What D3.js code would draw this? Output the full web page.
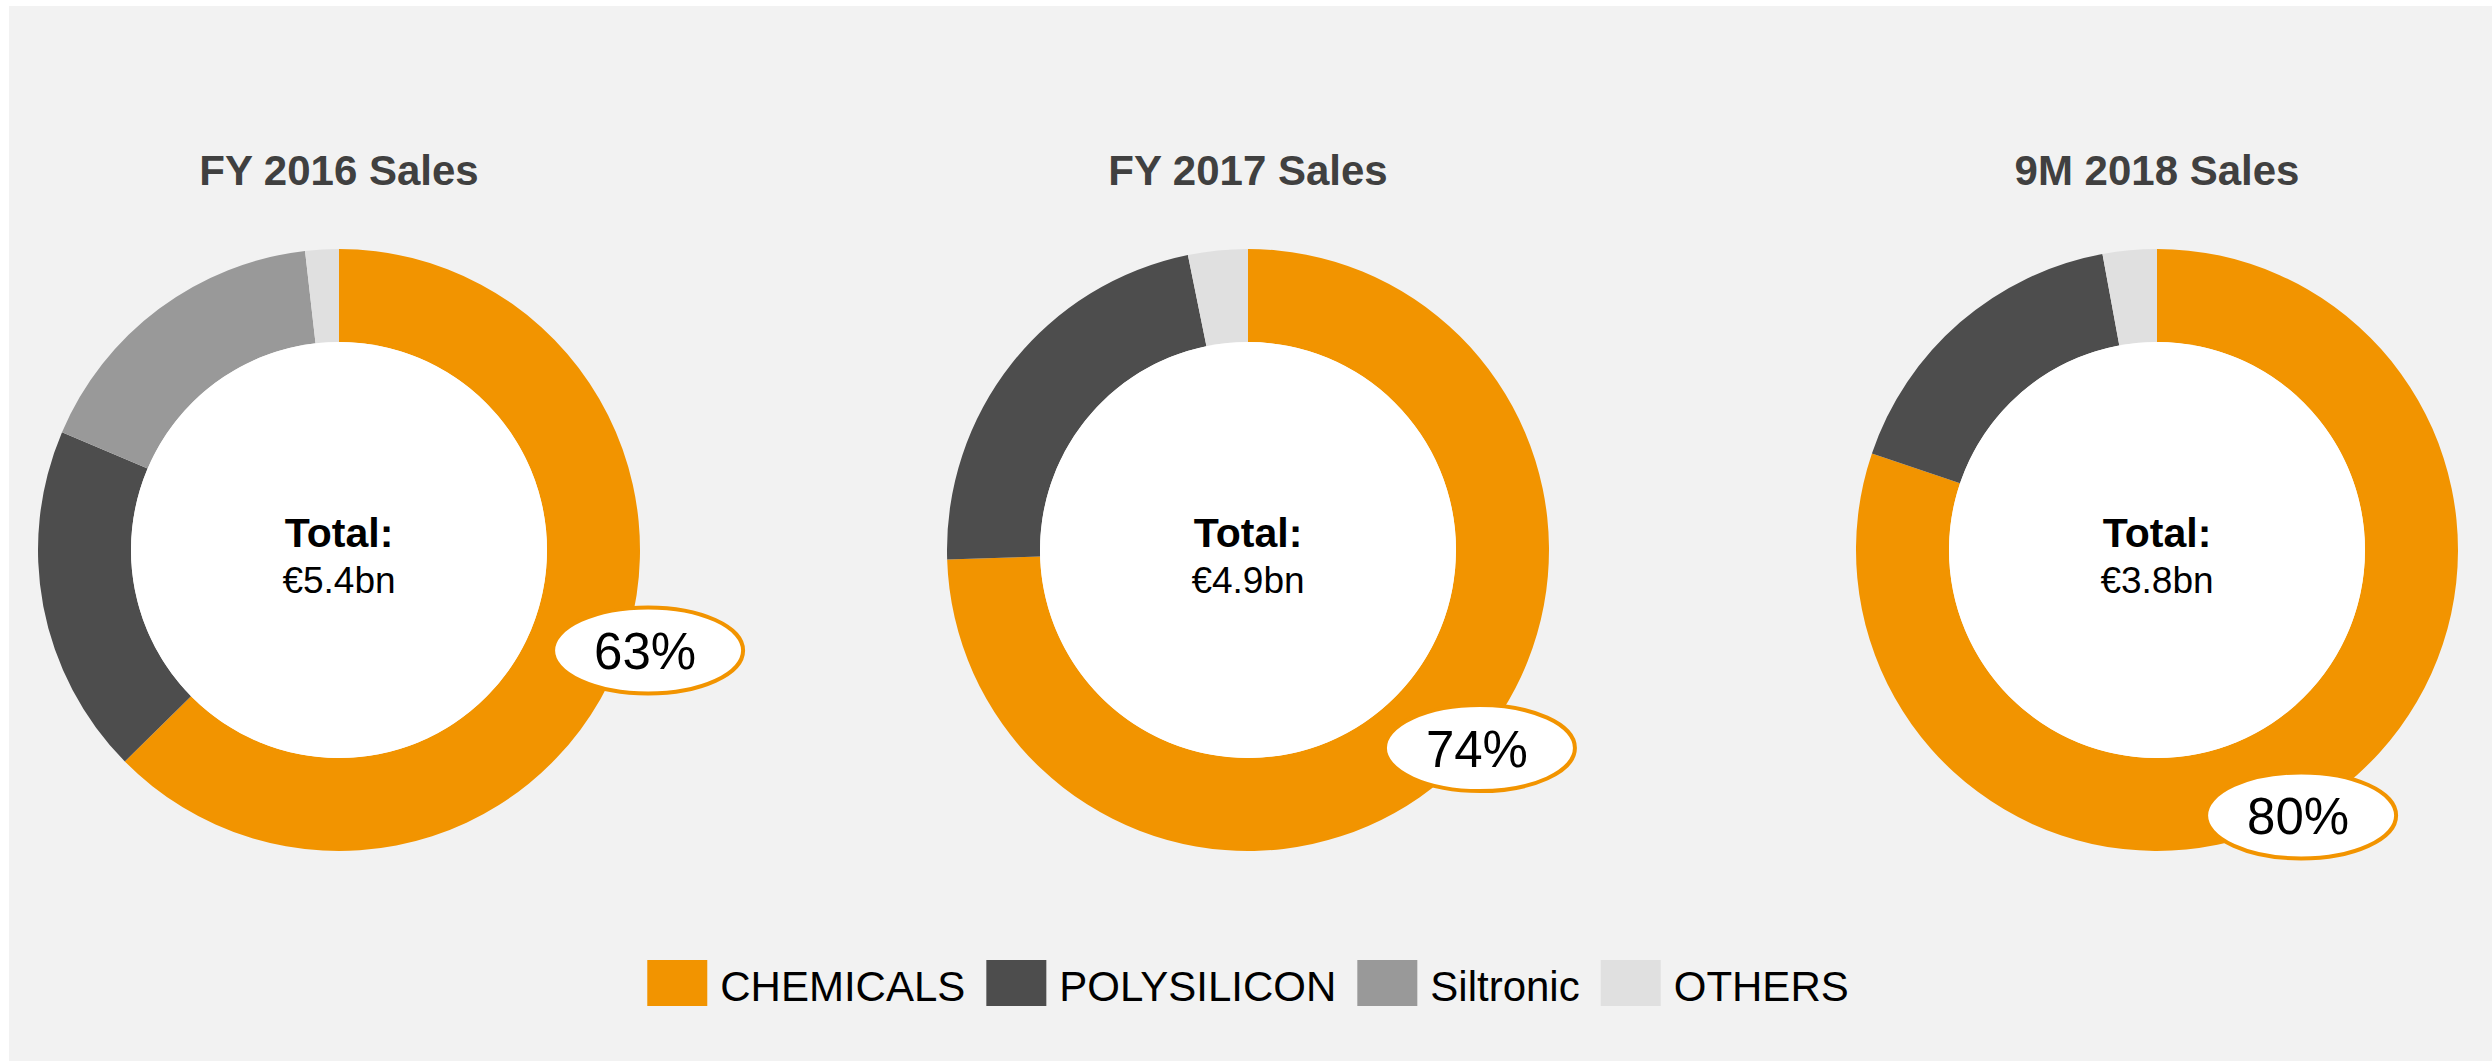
<!DOCTYPE html>
<html>
<head>
<meta charset="utf-8">
<script src="https://cdn.jsdelivr.net/npm/d3@7"></script>
<style>
  body { margin: 0; background: #fff; }
  text { font-family: 'Liberation Sans', Arial, sans-serif; }
</style>
</head>
<body>
<div class="container"></div>
<script>
// values (share of sales, %)
const segments = ['CHEMICALS', 'POLYSILICON', 'Siltronic', 'OTHERS'];
const titles = ['FY 2016 Sales', 'FY 2017 Sales', '9M 2018 Sales'];
const totals = ['€5.4bn', '€4.9bn', '€3.8bn'];
const fy2016 = [62.6, 18.8, 16.8, 1.8];
const fy2017 = [74.5, 22.3, 0, 3.2];
const m9_2018 = [80.2, 16.9, 0, 2.9];
const callouts = ['63%', '74%', '80%'];

const colors = ['#f29400', '#4d4d4d', '#999999', '#e0e0e0'];

const width = 2492;
const height = 1061;
const outerR = 301;
const innerR = 208;

// where the % bubble sits on each ring (degrees clockwise from top, radius)
const calloutAngle = [108, 130.5, 151.5];
const calloutRadius = [325, 305, 302];

const series = [fy2016, fy2017, m9_2018];

const svg = d3
  .select('.container')
  .append('svg')
  .attr('width', width)
  .attr('height', height);

svg
  .append('rect')
  .attr('x', 9)
  .attr('y', 6)
  .attr('width', width - 9)
  .attr('height', height - 6)
  .attr('fill', '#f2f2f2');

const x = d3.scalePoint().domain(titles).range([339, 2157]);
const cy = 550;

const color = d3.scaleOrdinal().domain(segments).range(colors);

const pie = d3
  .pie()
  .sort(null)
  .value(d => d.value);

const arc = d3.arc().innerRadius(innerR).outerRadius(outerR);

titles.forEach((title, i) => {
  const g = svg.append('g').attr('transform', `translate(${x(title)}, ${cy})`);

  const rows = segments.map((s, j) => ({ key: s, value: series[i][j] }));

  g.selectAll('path')
    .data(pie(rows).filter(d => d.data.value > 0))
    .enter()
    .append('path')
    .attr('d', arc)
    .attr('fill', d => color(d.data.key));

  g.append('circle').attr('r', innerR).attr('fill', '#fff');

  svg
    .append('text')
    .attr('x', x(title))
    .attr('y', 185)
    .attr('text-anchor', 'middle')
    .attr('font-size', 42)
    .attr('font-weight', 'bold')
    .attr('fill', '#404040')
    .text(title);

  g.append('text')
    .attr('y', -3)
    .attr('text-anchor', 'middle')
    .attr('font-size', 41)
    .attr('font-weight', 'bold')
    .attr('fill', '#000')
    .text('Total:');

  g.append('text')
    .attr('y', 43)
    .attr('text-anchor', 'middle')
    .attr('font-size', 37)
    .attr('fill', '#000')
    .text(totals[i]);

  // callout bubble
  const a = (calloutAngle[i] * Math.PI) / 180;
  const bx = calloutRadius[i] * Math.sin(a);
  const by = -calloutRadius[i] * Math.cos(a);

  g.append('ellipse')
    .attr('cx', bx)
    .attr('cy', by)
    .attr('rx', 95)
    .attr('ry', 43)
    .attr('fill', '#fff')
    .attr('stroke', '#f29400')
    .attr('stroke-width', 4);

  g.append('text')
    .attr('x', bx - 3)
    .attr('y', by + 19)
    .attr('text-anchor', 'middle')
    .attr('font-size', 51)
    .attr('fill', '#000')
    .text(callouts[i]);
});

// legend
const legend = svg.append('g').attr('class', 'legend');
const items = legend
  .selectAll('g')
  .data(segments)
  .enter()
  .append('g');

items
  .append('rect')
  .attr('width', 60)
  .attr('height', 46)
  .attr('fill', d => color(d));

items
  .append('text')
  .attr('x', 73)
  .attr('y', 41)
  .attr('font-size', 42)
  .attr('fill', '#000')
  .text(d => d);

let offset = 0;
items.each(function() {
  const w = d3.select(this).select('text').node().getComputedTextLength();
  d3.select(this).attr('transform', `translate(${offset}, 0)`);
  offset += 73 + w + 21;
});
offset -= 21;
legend.attr('transform', `translate(${width / 2 + 2 - offset / 2}, 960)`);
</script>
</body>
</html>
